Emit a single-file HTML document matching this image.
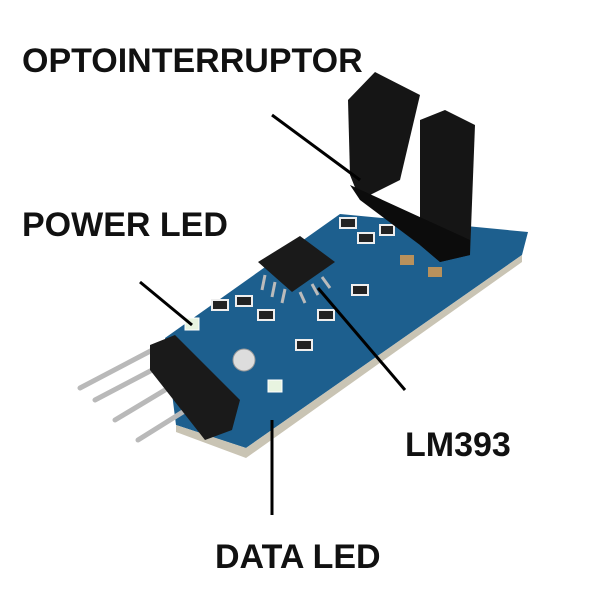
<!DOCTYPE html>
<html><head><style>
body{margin:0;background:#fff;width:600px;height:600px;overflow:hidden}
.t{position:absolute;font-family:"Liberation Sans",sans-serif;font-weight:bold;color:#111;font-size:34px;white-space:nowrap}
</style></head><body>
<svg width="600" height="600" style="position:absolute;left:0;top:0">
<polygon points="165,338 340,214 528,232 522,255 246,448 176,425" fill="#1d5f8e"/>
<polygon points="176,425 246,448 522,255 522,262 246,458 176,432" fill="#c9c4b4"/>
<polygon points="258,262 300,236 335,262 292,292" fill="#1a1a1a"/>
<g stroke="#bbb" stroke-width="3"><line x1="265" y1="275" x2="262" y2="290"/><line x1="275" y1="282" x2="272" y2="297"/><line x1="285" y1="289" x2="282" y2="303"/><line x1="300" y1="292" x2="305" y2="303"/><line x1="312" y1="284" x2="318" y2="295"/><line x1="322" y1="277" x2="330" y2="288"/></g>
<g fill="#222" stroke="#eee" stroke-width="2">
<rect x="340" y="218" width="16" height="10"/><rect x="358" y="233" width="16" height="10"/><rect x="380" y="225" width="14" height="10"/>
<rect x="236" y="296" width="16" height="10"/><rect x="258" y="310" width="16" height="10"/><rect x="352" y="285" width="16" height="10"/>
<rect x="318" y="310" width="16" height="10"/><rect x="296" y="340" width="16" height="10"/><rect x="212" y="300" width="16" height="10"/>
</g>
<rect x="400" y="255" width="14" height="10" fill="#b8915c"/><rect x="428" y="267" width="14" height="10" fill="#b8915c"/>
<circle cx="244" cy="360" r="11" fill="#ddd" stroke="#999"/>
<rect x="185" y="318" width="14" height="12" fill="#e8f4e0" stroke="#fff"/>
<rect x="268" y="380" width="14" height="12" fill="#e8f4e0" stroke="#fff"/>
<polygon points="348,100 375,72 420,95 400,180 360,200 350,175" fill="#151515"/>
<polygon points="420,120 445,110 475,125 470,255 440,262 420,245" fill="#151515"/>
<polygon points="360,200 420,245 440,262 470,255 470,240 350,185" fill="#0c0c0c"/>
<g stroke="#b9b9b9" stroke-width="5" stroke-linecap="round">
<line x1="80" y1="388" x2="160" y2="346"/><line x1="95" y1="400" x2="175" y2="358"/><line x1="115" y1="420" x2="190" y2="375"/><line x1="138" y1="440" x2="210" y2="395"/>
</g>
<polygon points="150,345 175,335 240,400 232,430 205,440 150,370" fill="#1a1a1a"/>
<g stroke="#000" stroke-width="3">
<line x1="272" y1="115" x2="360" y2="180"/><line x1="140" y1="282" x2="192" y2="325"/>
<line x1="318" y1="288" x2="405" y2="390"/><line x1="272" y1="420" x2="272" y2="515"/>
</g>
</svg>
<div class="t" style="left:22px;top:42px">OPTOINTERRUPTOR</div>
<div class="t" style="left:22px;top:206px">POWER LED</div>
<div class="t" style="left:405px;top:426px">LM393</div>
<div class="t" style="left:215px;top:538px">DATA LED</div>
</body></html>
